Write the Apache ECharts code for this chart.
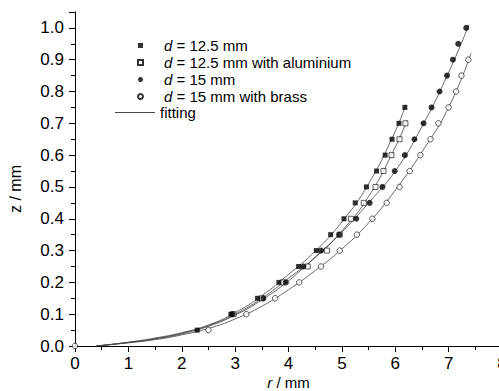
<!DOCTYPE html>
<html><head><meta charset="utf-8">
<script src="https://cdn.jsdelivr.net/npm/echarts@6/dist/echarts.min.js"></script>
<style>html,body{margin:0;padding:0;background:#fff}#c{width:499px;height:391px}</style>
</head><body><div id="c"></div>
<script>
// d = 12.5 mm (filled squares)
const rSq = [2.29, 2.92, 3.42, 3.82, 4.19, 4.52, 4.79, 5.04, 5.25, 5.46, 5.65, 5.81, 5.94, 6.07, 6.18];
const zSq = [0.05, 0.10, 0.15, 0.20, 0.25, 0.30, 0.35, 0.40, 0.45, 0.50, 0.55, 0.60, 0.65, 0.70, 0.75];
// d = 12.5 mm with aluminium (open squares)
const rSqAl = [2.97, 3.50, 3.89, 4.36, 4.72, 4.96, 5.17, 5.41, 5.63, 5.78, 5.93, 6.08, 6.19];
const zSqAl = [0.10, 0.15, 0.20, 0.25, 0.30, 0.35, 0.40, 0.45, 0.50, 0.55, 0.60, 0.65, 0.70];
// d = 15 mm (filled circles)
const rCi = [2.95, 3.53, 3.95, 4.28, 4.61, 4.95, 5.27, 5.52, 5.76, 5.99, 6.18, 6.36, 6.53, 6.68, 6.83, 6.97, 7.08, 7.18, 7.33];
const zCi = [0.10, 0.15, 0.20, 0.25, 0.30, 0.35, 0.40, 0.45, 0.50, 0.55, 0.60, 0.65, 0.70, 0.75, 0.80, 0.85, 0.90, 0.95, 1.00];
// d = 15 mm with brass (open circles)
const rCiBr = [0, 2.50, 3.21, 3.75, 4.20, 4.61, 4.96, 5.28, 5.57, 5.84, 6.08, 6.27, 6.47, 6.66, 6.81, 7.00, 7.14, 7.24, 7.37];
const zCiBr = [0, 0.05, 0.10, 0.15, 0.20, 0.25, 0.30, 0.35, 0.40, 0.45, 0.50, 0.55, 0.60, 0.65, 0.70, 0.75, 0.80, 0.85, 0.90];
// fitting curves
const rFitA = [0.4, 1.0, 1.5, 2.0, 2.5, 3.0, 3.5, 4.0, 4.5, 5.0, 5.5, 6.0, 6.2];
const zFitA = [0, 0.012, 0.025, 0.042, 0.066, 0.105, 0.158, 0.225, 0.298, 0.39, 0.51, 0.675, 0.76];
const rFitB = [0.4, 1.0, 1.5, 2.0, 2.5, 3.0, 3.5, 4.0, 4.5, 5.0, 5.5, 6.0, 6.22];
const zFitB = [0, 0.011, 0.023, 0.04, 0.064, 0.1, 0.15, 0.213, 0.278, 0.362, 0.47, 0.625, 0.71];
const rFitC = [0.4, 1.0, 1.5, 2.0, 2.5, 3.0, 3.5, 4.0, 4.5, 5.0, 5.5, 6.0, 6.5, 7.0, 7.38];
const zFitC = [0, 0.011, 0.022, 0.038, 0.062, 0.097, 0.145, 0.205, 0.28, 0.358, 0.45, 0.55, 0.69, 0.86, 1.01];
const rFitD = [0.4, 1.0, 1.5, 2.0, 2.5, 3.0, 3.5, 4.0, 4.5, 5.0, 5.5, 6.0, 6.5, 7.0, 7.42];
const zFitD = [0, 0.01, 0.02, 0.035, 0.055, 0.085, 0.125, 0.177, 0.237, 0.305, 0.387, 0.49, 0.61, 0.75, 0.92];

const names = ['d = 12.5 mm', 'd = 12.5 mm with aluminium', 'd = 15 mm', 'd = 15 mm with brass'];
const xTicks = [0, 1, 2, 3, 4, 5, 6, 7, 8];
const yTicks = [0, 0.1, 0.2, 0.3, 0.4, 0.5, 0.6, 0.7, 0.8, 0.9, 1.0];

const FONT = "'Liberation Sans', Arial, sans-serif";
const pairs = (r, z) => r.map((v, i) => [v, z[i]]);

const chart = echarts.init(document.getElementById('c'), null, {renderer: 'svg'});
const fitStyle = {color: '#444', width: 0.8};
const fit = (r, z) => ({name: 'fitting', type: 'line', smooth: true, symbol: 'none', showSymbol: false, data: pairs(r, z), lineStyle: fitStyle, itemStyle: {color: '#444'}, z: 1, silent: true});

chart.setOption({
  animation: false,
  backgroundColor: '#fff',
  textStyle: {fontFamily: FONT},
  grid: {left: 75, right: -3, top: 12, bottom: 45, outerBoundsMode: 'none', containLabel: false},
  xAxis: {
    type: 'value', min: 0, max: 8, interval: 1,
    name: '{i|r} / mm', nameLocation: 'middle', nameGap: 29, nameMoveOverlap: false,
    nameTextStyle: {fontFamily: FONT, fontSize: 15, color: '#000', rich: {i: {fontStyle: 'italic', fontFamily: FONT, fontSize: 15}}},
    axisLine: {lineStyle: {color: '#000', width: 1}},
    axisTick: {length: 6, lineStyle: {color: '#000'}},
    minorTick: {show: true, splitNumber: 2, length: 4, lineStyle: {color: '#000'}},
    splitLine: {show: false},
    axisLabel: {fontFamily: FONT, fontSize: 17, color: '#000', margin: 9,
      formatter: v => xTicks.indexOf(v) >= 0 ? String(v) : ''}
  },
  yAxis: {
    type: 'value', min: 0, max: 1.05, interval: 0.1,
    name: 'z / mm', nameLocation: 'middle', nameGap: 52, nameRotate: 90, nameMoveOverlap: false,
    nameTextStyle: {fontFamily: FONT, fontSize: 16, color: '#000', padding: [0, 0, 0, -20]},
    axisLine: {show: true, lineStyle: {color: '#000', width: 1}},
    axisTick: {show: true, length: 6, lineStyle: {color: '#000'}},
    minorTick: {show: true, splitNumber: 2, length: 4, lineStyle: {color: '#000'}},
    splitLine: {show: false},
    axisLabel: {fontFamily: FONT, fontSize: 17, color: '#000', margin: 11, showMaxLabel: false,
      formatter: v => { const t = yTicks.find(k => Math.abs(k - v) < 1e-6); return t === undefined ? '' : t.toFixed(1); }}
  },
  legend: [{
    data: names, orient: 'vertical', left: 137, top: 37, padding: 0, itemGap: 0,
    itemWidth: 5, itemHeight: 5,
    textStyle: {fontFamily: FONT, fontSize: 15, color: '#000', lineHeight: 17,
      rich: {s: {width: 16, lineHeight: 17}, i: {fontStyle: 'italic', fontFamily: FONT, fontSize: 15, lineHeight: 17}}},
    formatter: n => '{s|}{i|d}' + n.slice(1)
  }, {
    data: [{name: 'fitting', icon: 'rect'}], orient: 'vertical', left: 115, top: 104, padding: 0,
    itemWidth: 40, itemHeight: 1,
    textStyle: {fontFamily: FONT, fontSize: 15, color: '#000', lineHeight: 17}
  }],
  series: [
    fit(rFitA, zFitA), fit(rFitB, zFitB), fit(rFitC, zFitC), fit(rFitD, zFitD),
    {name: names[0], type: 'scatter', symbol: 'rect', symbolSize: 5, data: pairs(rSq, zSq), itemStyle: {color: '#000'}, z: 3},
    {name: names[1], type: 'scatter', symbol: 'rect', symbolSize: 5, data: pairs(rSqAl, zSqAl), itemStyle: {color: '#fff', borderColor: '#000', borderWidth: 0.8}, z: 2},
    {name: names[2], type: 'scatter', symbol: 'circle', symbolSize: 6, data: pairs(rCi, zCi), itemStyle: {color: '#000'}, z: 3},
    {name: names[3], type: 'scatter', symbol: 'circle', symbolSize: 5.5, data: pairs(rCiBr, zCiBr), itemStyle: {color: '#fff', borderColor: '#000', borderWidth: 0.8}, z: 2}
  ]
});
</script></body></html>
